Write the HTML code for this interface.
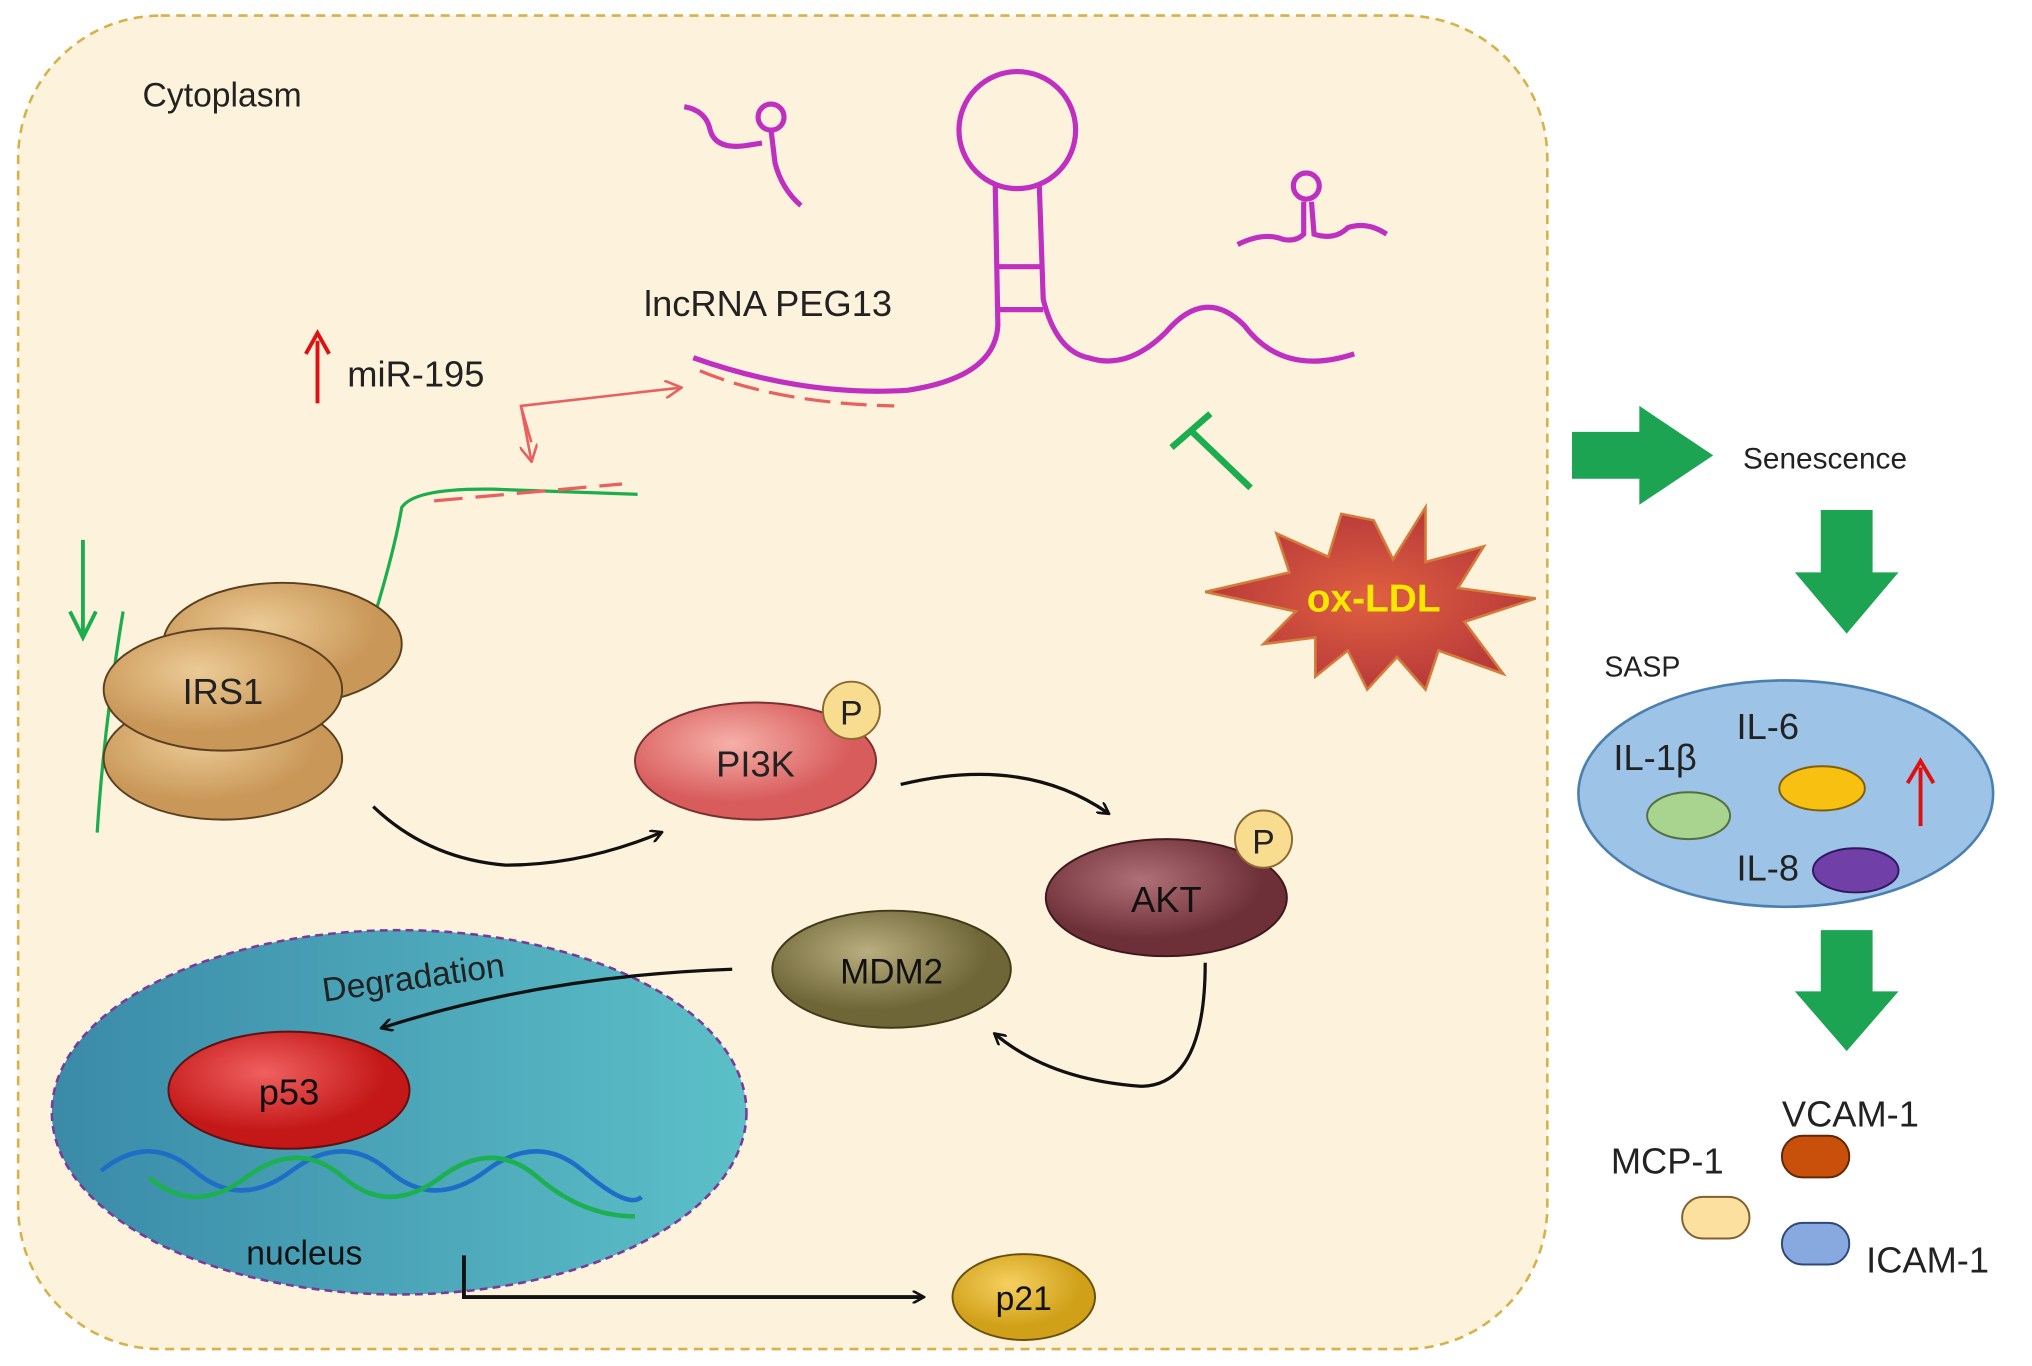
<!DOCTYPE html>
<html><head><meta charset="utf-8"><style>
html,body{margin:0;padding:0;background:#fff;}
svg{display:block;}
text{font-family:"Liberation Sans",Arial,sans-serif;}
</style></head><body>
<svg width="2032" height="1366" viewBox="0 0 1568 1050" preserveAspectRatio="none" xmlns="http://www.w3.org/2000/svg">
<defs>
<marker id="ab" markerWidth="10" markerHeight="10" refX="8" refY="5" orient="auto" markerUnits="userSpaceOnUse"><path d="M0,0 L9,5 L0,10" fill="none" stroke="#111" stroke-width="2"/></marker>
<marker id="ar" markerWidth="14" markerHeight="14" refX="12" refY="7" orient="auto" markerUnits="userSpaceOnUse"><path d="M0,0 L13,7 L0,14" fill="none" stroke="#e86060" stroke-width="2"/></marker>
<radialGradient id="gPi" cx="40%" cy="35%"><stop offset="0" stop-color="#f6b0a8"/><stop offset="1" stop-color="#d85c5c"/></radialGradient>
<radialGradient id="gAkt" cx="40%" cy="35%"><stop offset="0" stop-color="#b07078"/><stop offset="1" stop-color="#6e3038"/></radialGradient>
<radialGradient id="gMd" cx="40%" cy="35%"><stop offset="0" stop-color="#b8ae80"/><stop offset="1" stop-color="#6f6638"/></radialGradient>
<radialGradient id="gP53" cx="40%" cy="35%"><stop offset="0" stop-color="#f06060"/><stop offset="1" stop-color="#c41818"/></radialGradient>
<radialGradient id="gIrs" cx="40%" cy="35%"><stop offset="0" stop-color="#eccb96"/><stop offset="1" stop-color="#c99758"/></radialGradient>
<radialGradient id="gP21" cx="40%" cy="35%"><stop offset="0" stop-color="#f6d060"/><stop offset="1" stop-color="#d0a018"/></radialGradient>
<linearGradient id="gNuc" x1="0" x2="1"><stop offset="0" stop-color="#3a8aa8"/><stop offset="1" stop-color="#5cc0c8"/></linearGradient>
<radialGradient id="gStar" cx="50%" cy="50%"><stop offset="0" stop-color="#e06040"/><stop offset="1" stop-color="#b83a3a"/></radialGradient>
</defs>
<rect x="14" y="12" width="1180" height="1025" rx="110" fill="#fdf3dc" stroke="#d6b24a" stroke-width="2" stroke-dasharray="7,5"/>
<text x="110" y="82" font-size="26" fill="#222">Cytoplasm</text>

<g fill="none" stroke="#c030c0" stroke-width="4">
<circle cx="785" cy="100" r="45"/>
<path d="M768,143 L770,250 Q768,290 700,300 Q620,305 535,275"/>
<path d="M802,143 L805,230 Q815,270 840,275 Q870,285 900,255 Q930,220 960,250 Q990,290 1045,272"/>
<line x1="770" y1="205" x2="805" y2="205"/><line x1="770" y1="238" x2="805" y2="238"/>
<path d="M528,82 Q545,85 548,100 Q552,115 575,112 L588,110 M595,100 L598,125 Q603,145 618,158"/>
<circle cx="595" cy="90" r="10"/>
<path d="M955,188 Q975,178 990,184 Q1000,186 1006,180 L1006,155 M1012,155 L1014,180 Q1030,185 1040,175 Q1055,170 1070,180"/>
<circle cx="1008" cy="143" r="10"/>
</g>
<text x="497" y="243" font-size="28" fill="#222">lncRNA PEG13</text>
<path d="M540,285 Q600,310 690,312" fill="none" stroke="#e86060" stroke-width="2.5" stroke-dasharray="20,8"/>

<line x1="245" y1="310" x2="245" y2="262" stroke="#e01010" stroke-width="3"/>
<path d="M236,272 L245,256 L254,272" fill="none" stroke="#e01010" stroke-width="3"/>
<text x="268" y="297" font-size="28" fill="#222">miR-195</text>
<polyline points="410,340 402,312 525,298" fill="none" stroke="#e86060" stroke-width="2" marker-end="url(#ar)"/>
<line x1="402" y1="312" x2="410" y2="354" stroke="#e86060" stroke-width="2" marker-end="url(#ar)"/>

<path d="M75,640 Q80,560 95,470 M290,470 Q305,420 310,390 Q320,375 380,376 L492,380" fill="none" stroke="#1cae4e" stroke-width="2.5"/>
<path d="M335,385 L480,372" fill="none" stroke="#e86060" stroke-width="2.5" stroke-dasharray="22,10"/>
<line x1="64" y1="415" x2="64" y2="488" stroke="#1cae4e" stroke-width="3"/>
<path d="M54,470 L64,490 L74,470" fill="none" stroke="#1cae4e" stroke-width="3"/>

<g stroke="#5a4020" stroke-width="1.5" fill="url(#gIrs)">
<ellipse cx="218" cy="495" rx="92" ry="47"/>
<ellipse cx="172" cy="583" rx="92" ry="47"/>
<ellipse cx="172" cy="530" rx="92" ry="47"/>
</g>
<text x="172" y="541" font-size="28" text-anchor="middle" fill="#222">IRS1</text>

<path d="M288,620 Q330,660 390,665 Q450,665 510,640" fill="none" stroke="#111" stroke-width="2.5" marker-end="url(#ab)"/>
<path d="M695,603 Q790,580 855,625" fill="none" stroke="#111" stroke-width="2.5" marker-end="url(#ab)"/>
<path d="M930,740 Q930,835 880,835 Q810,830 768,795" fill="none" stroke="#111" stroke-width="2.5" marker-end="url(#ab)"/>

<ellipse cx="583" cy="585" rx="93" ry="45" fill="url(#gPi)" stroke="#7a3030" stroke-width="1.5"/>
<text x="583" y="597" font-size="28" text-anchor="middle" fill="#222">PI3K</text>
<circle cx="657" cy="546" r="22" fill="#f8dc90" stroke="#8a6a30" stroke-width="1.5"/>
<text x="657" y="557" font-size="26" text-anchor="middle" fill="#222">P</text>
<ellipse cx="900" cy="690" rx="93" ry="45" fill="url(#gAkt)" stroke="#40181c" stroke-width="1.5"/>
<text x="900" y="701" font-size="28" text-anchor="middle" fill="#111">AKT</text>
<circle cx="975" cy="645" r="22" fill="#f8dc90" stroke="#8a6a30" stroke-width="1.5"/>
<text x="975" y="656" font-size="26" text-anchor="middle" fill="#222">P</text>
<ellipse cx="688" cy="745" rx="92" ry="45" fill="url(#gMd)" stroke="#403a18" stroke-width="1.5"/>
<text x="688" y="756" font-size="27" text-anchor="middle" fill="#111">MDM2</text>

<ellipse cx="308" cy="855" rx="268" ry="140" fill="url(#gNuc)" stroke="#7a3a9a" stroke-width="2" stroke-dasharray="6,4"/>
<path d="M565,745 Q420,750 295,790" fill="none" stroke="#111" stroke-width="2.5" marker-end="url(#ab)"/>
<text x="250" y="770" font-size="26" fill="#222" transform="rotate(-8 250 770)">Degradation</text>
<ellipse cx="223" cy="838" rx="93" ry="45" fill="url(#gP53)" stroke="#601010" stroke-width="1.5"/>
<text x="223" y="849" font-size="28" text-anchor="middle" fill="#111">p53</text>
<path d="M78,900 Q115,870 150,900 T225,900 T300,900 T375,900 T450,900 T495,920" fill="none" stroke="#1e6ec8" stroke-width="3.5"/>
<path d="M115,905 Q150,935 190,905 T265,905 T340,905 T415,905 T490,935" fill="none" stroke="#1cb050" stroke-width="3.5"/>
<text x="190" y="972" font-size="26" fill="#111">nucleus</text>
<polyline points="358,965 358,997 712,997" fill="none" stroke="#111" stroke-width="3" marker-end="url(#ab)"/>
<ellipse cx="790" cy="997" rx="55" ry="33" fill="url(#gP21)" stroke="#6a5010" stroke-width="1.5"/>
<text x="790" y="1007" font-size="26" text-anchor="middle" fill="#111">p21</text>

<line x1="965" y1="375" x2="920" y2="332" stroke="#1cae4e" stroke-width="5"/>
<line x1="904" y1="344" x2="934" y2="318" stroke="#1cae4e" stroke-width="5"/>
<polygon points="1060,400 1075,430 1100,390 1100,432 1145,420 1125,452 1185,460 1130,478 1160,518 1110,500 1100,530 1078,505 1055,530 1040,500 1015,520 1015,490 975,495 1000,470 930,455 995,440 985,410 1025,428 1035,395" fill="url(#gStar)" stroke="#d47a3a" stroke-width="2"/>
<text x="1060" y="470" font-size="30" font-weight="bold" text-anchor="middle" fill="#f6e800">ox-LDL</text>

<polygon points="1213,332 1265,332 1265,312 1322,350 1265,388 1265,368 1213,368" fill="#1ca452"/>
<text x="1345" y="360" font-size="23" fill="#222">Senescence</text>
<polygon points="1405,392 1445,392 1445,440 1465,440 1425,487 1385,440 1405,440" fill="#1ca452"/>
<text x="1238" y="520" font-size="22" fill="#222">SASP</text>
<ellipse cx="1378" cy="610" rx="160" ry="87" fill="#9dc3e6" stroke="#4a7fb0" stroke-width="2"/>
<text x="1245" y="592" font-size="28" fill="#222">IL-1β</text>
<text x="1340" y="568" font-size="28" fill="#222">IL-6</text>
<text x="1340" y="677" font-size="28" fill="#222">IL-8</text>
<ellipse cx="1303" cy="627" rx="32" ry="18" fill="#a8d490" stroke="#507040" stroke-width="1.5"/>
<ellipse cx="1406" cy="606" rx="33" ry="17" fill="#f8c010" stroke="#806010" stroke-width="1.5"/>
<ellipse cx="1432" cy="669" rx="33" ry="17" fill="#7040a8" stroke="#301860" stroke-width="1.5"/>
<line x1="1482" y1="635" x2="1482" y2="590" stroke="#e01010" stroke-width="3"/>
<path d="M1472,602 L1482,585 L1492,602" fill="none" stroke="#e01010" stroke-width="3"/>
<polygon points="1405,715 1445,715 1445,762 1465,762 1425,808 1385,762 1405,762" fill="#1ca452"/>
<text x="1375" y="866" font-size="28" fill="#222">VCAM-1</text>
<text x="1243" y="902" font-size="28" fill="#222">MCP-1</text>
<text x="1440" y="978" font-size="28" fill="#222">ICAM-1</text>
<rect x="1375" y="873" width="52" height="32" rx="16" fill="#c8500a" stroke="#602808" stroke-width="1.5"/>
<rect x="1298" y="920" width="52" height="32" rx="16" fill="#fbe0a0" stroke="#806030" stroke-width="1.5"/>
<rect x="1375" y="940" width="52" height="32" rx="16" fill="#88a8e0" stroke="#304878" stroke-width="1.5"/>
</svg>
</body></html>
